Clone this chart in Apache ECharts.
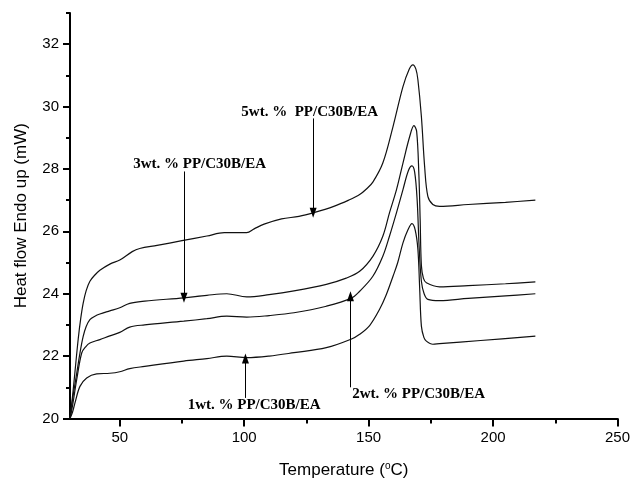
<!DOCTYPE html>
<html>
<head>
<meta charset="utf-8">
<script src="https://cdn.jsdelivr.net/npm/echarts@6/dist/echarts.min.js"></script>
<style>
html,body{margin:0;padding:0;background:#fff;}
#main{width:633px;height:484px;}
</style>
</head>
<body>
<div id="main"></div>
<script>
// temperature (C) / heat flow (mW)
var temp5 = [30,31,32,33.3,34.3,35.3,36.5,38,40,42,46,50,55,58,65,75,85,92,101,104,108,115,122,128,136,142,146.4,149,151.7,155.7,159.8,163.8,166.3,167.8,169,169.8,171.2,172.5,173.8,175.8,178.5,190,205,217];
var flow5 = [20,20.7,21.5,22.55,23.2,23.7,24.1,24.4,24.6,24.75,24.95,25.08,25.35,25.45,25.55,25.7,25.85,25.96,25.96,26.08,26.23,26.4,26.48,26.6,26.8,27.0,27.18,27.35,27.58,28.19,29.36,30.64,31.2,31.34,31.2,30.86,29.68,28.08,27.12,26.86,26.8,26.86,26.93,27.0];

var temp3 = [30,31,32.7,34,35.3,36.5,38,40,42,46,50,54,60,75.7,85,93,101,110,120,133,141,146.4,151.7,155.7,158.4,161.2,163.8,166.5,168.2,169.3,170.2,170.7,171.2,172,173.2,178.5,190,205,217];
var flow3 = [20,20.6,21.45,22.1,22.63,22.95,23.17,23.28,23.35,23.45,23.55,23.69,23.76,23.87,23.95,24.0,23.9,23.97,24.09,24.3,24.5,24.72,25.2,25.84,26.6,27.34,28.19,29.04,29.39,29.2,27.8,26.4,24.9,24.5,24.35,24.22,24.26,24.32,24.38];

var temp2 = [30,31,32.7,34.7,36.3,38,42,46,50,54,60,75.7,85,93,101,110,120,133,142.9,146.4,151.7,155.7,158.4,161.2,163.8,166,167.4,168.5,169.5,170.3,171.2,172.3,173.8,178.5,190,205,217];
var flow2 = [20,20.4,21.25,22.1,22.3,22.42,22.53,22.65,22.76,22.93,23.0,23.12,23.2,23.28,23.25,23.3,23.39,23.6,23.85,24.08,24.56,25.2,25.85,26.6,27.34,27.95,28.1,27.9,27.0,25.5,24.4,24.0,23.82,23.78,23.85,23.93,24.0];

var temp1 = [30,31,32,34,36.7,40.7,46,50,54,60,75.7,85,93,101,110,120,133,142.9,146.4,150.4,154.4,157,159.8,161.7,163.8,165.8,167.4,168.7,169.8,170.5,171.2,172.2,173.2,175.8,178.5,195,217];
var flow1 = [20,20.2,20.5,21.03,21.3,21.43,21.45,21.5,21.6,21.67,21.84,21.92,22.0,21.95,22.0,22.11,22.27,22.54,22.7,22.98,23.5,23.95,24.56,25.0,25.63,26.05,26.25,26.05,25.42,24.2,22.96,22.6,22.48,22.38,22.4,22.5,22.64];

var seriesNames = ['5wt. %  PP/C30B/EA','3wt. % PP/C30B/EA','2wt. % PP/C30B/EA','1wt. % PP/C30B/EA'];
var xMajor = [50,100,150,200,250];
var xMinor = [75,125,175,225];
var yMajor = [20,22,24,26,28,30,32];
var yMinor = [21,23,25,27,29,31,33];

function pairs(t, f){
	var out = [];
	for(var i = 0 ; i < t.length ; i++){
		out.push([t[i], f[i]]);
	}
	return out;
}

// label position (data coords) and arrow [x, from y, to y]
var notes = [
	{text: seriesNames[0], at: [126.3, 29.83], arrow: [127.7, 29.62, 26.6]},
	{text: seriesNames[1], at: [82.1, 28.17], arrow: [75.8, 27.92, 23.87]},
	{text: seriesNames[2], at: [170.1, 20.78], arrow: [142.7, 21.0, 23.92]},
	{text: seriesNames[3], at: [104, 20.43], arrow: [100.5, 20.66, 21.92]}
];

var curves = [pairs(temp5,flow5), pairs(temp3,flow3), pairs(temp2,flow2), pairs(temp1,flow1)];

var series = [];
for(var i = 0 ; i < curves.length ; i++){
	var n = notes[i];
	series.push({
		name: seriesNames[i],
		type: 'line',
		data: curves[i],
		showSymbol: false,
		smooth: 0.35,
		lineStyle: {color: '#111', width: 1.2},
		silent: true,
		markPoint: {
			symbol: 'circle',
			symbolSize: 0,
			silent: true,
			label: {
				show: true,
				position: 'inside',
				formatter: n.text,
				color: '#000',
				fontFamily: 'Liberation Serif',
				fontWeight: 'bold',
				fontSize: 15
			},
			data: [{coord: n.at}]
		},
		markLine: {
			silent: true,
			symbol: ['none', 'triangle'],
			symbolSize: [7, 10],
			label: {show: false},
			lineStyle: {color: '#000', width: 1, type: 'solid'},
			data: [[{coord: [n.arrow[0], n.arrow[1]]}, {coord: [n.arrow[0], n.arrow[2]]}]]
		}
	});
}

var myChart = echarts.init(document.getElementById('main'));
var option = {
	animation: false,
	backgroundColor: '#fff',
	grid: {left: 70, right: 14, top: 13, bottom: 65},
	xAxis: [
		{
			type: 'value', min: 30, max: 250, position: 'bottom',
			name: 'Temperature ({s|o}C)',
			nameLocation: 'middle',
			nameGap: 43,
			nameTextStyle: {
				fontFamily: 'Liberation Sans', fontSize: 17, color: '#000',
				rich: {s: {fontSize: 10, verticalAlign: 'top', padding: [0, 0, 8, 0], fontFamily: 'Liberation Sans', color: '#000'}}
			},
			axisLine: {lineStyle: {color: '#000', width: 2}},
			axisTick: {customValues: xMajor, length: 8, lineStyle: {color: '#000', width: 2}},
			axisLabel: {customValues: xMajor, margin: 12, fontFamily: 'Liberation Sans', fontSize: 15, color: '#000'},
			splitLine: {show: false}
		},
		{
			type: 'value', min: 30, max: 250, position: 'bottom',
			axisLine: {show: false},
			axisTick: {customValues: xMinor, length: 5, lineStyle: {color: '#000', width: 2}},
			axisLabel: {show: false},
			splitLine: {show: false}
		}
	],
	yAxis: [
		{
			type: 'value', min: 20, max: 33, position: 'left',
			name: 'Heat flow Endo up (mW)',
			nameLocation: 'middle',
			nameGap: 40,
			nameTextStyle: {fontFamily: 'Liberation Sans', fontSize: 17, color: '#000'},
			axisLine: {show: true, lineStyle: {color: '#000', width: 2}},
			axisTick: {show: true, customValues: yMajor, length: 7, lineStyle: {color: '#000', width: 2}},
			axisLabel: {customValues: yMajor, margin: 11, fontFamily: 'Liberation Sans', fontSize: 15, color: '#000'},
			splitLine: {show: false}
		},
		{
			type: 'value', min: 20, max: 33, position: 'left',
			axisLine: {show: false},
			axisTick: {show: true, customValues: yMinor, length: 4, lineStyle: {color: '#000', width: 2}},
			axisLabel: {show: false},
			splitLine: {show: false}
		}
	],
	series: series
};
myChart.setOption(option);
</script>
</body>
</html>
